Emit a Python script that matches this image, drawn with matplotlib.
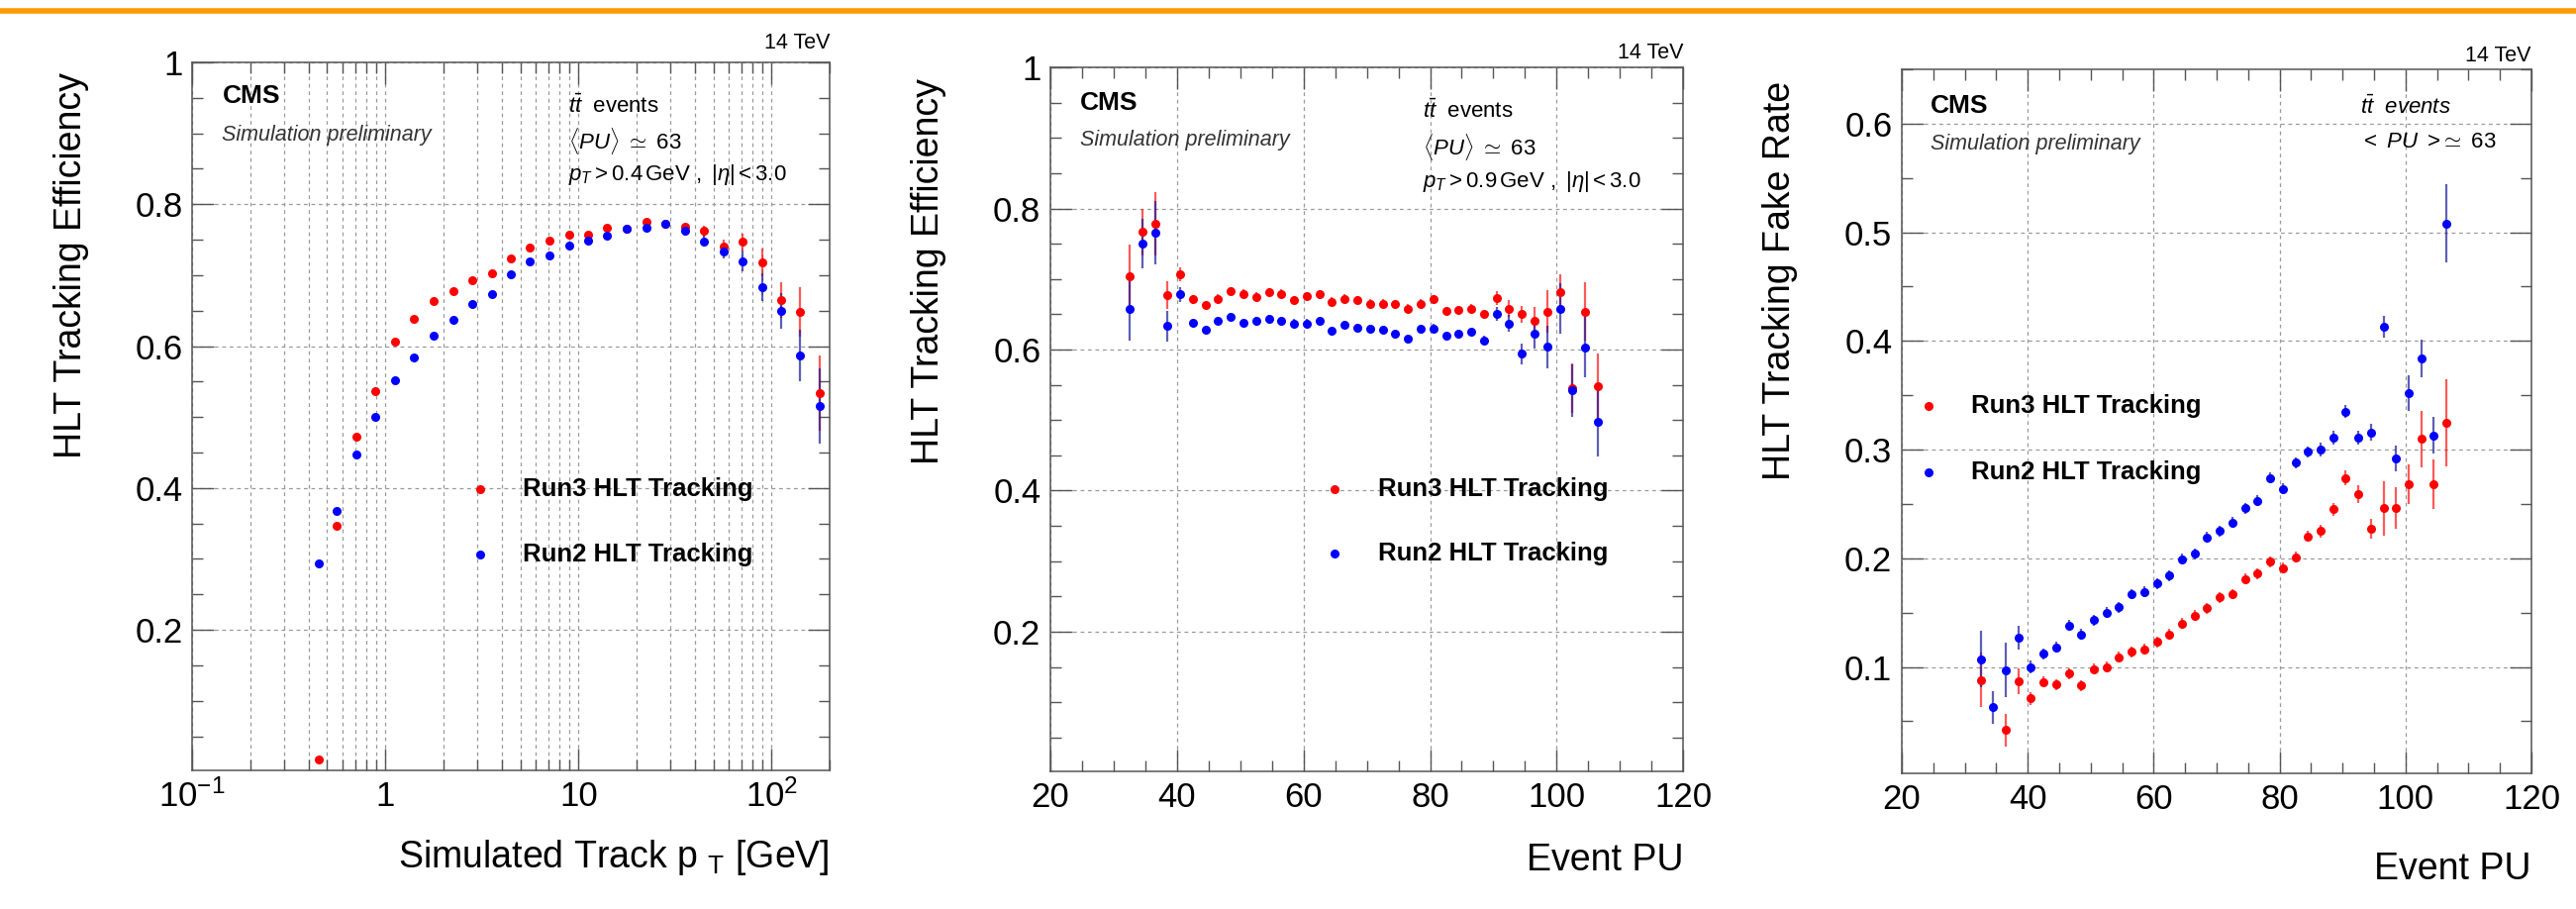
import numpy as np
import matplotlib
matplotlib.use("Agg")
import matplotlib.pyplot as plt
from matplotlib.ticker import FixedLocator, FixedFormatter, MultipleLocator, LogLocator, NullFormatter

plt.rcParams['font.family'] = ['Liberation Sans', 'DejaVu Sans']
plt.rcParams['mathtext.fontset'] = 'custom'
plt.rcParams['mathtext.rm'] = 'Liberation Sans'
plt.rcParams['mathtext.it'] = 'Liberation Sans:italic'
plt.rcParams['mathtext.bf'] = 'Liberation Sans:bold'

# ---- panel 1: efficiency vs simulated track pT ----
pt = [0.45, 0.56, 0.71, 0.89, 1.12, 1.41, 1.78, 2.24, 2.82, 3.55, 4.47, 5.62, 7.08, 8.91,
      11.2, 14.1, 17.8, 22.4, 28.2, 35.5, 44.7, 56.2, 70.8, 89.1, 112, 141, 178]
eff_pt_run3 = [0.018, 0.347, 0.472, 0.537, 0.606, 0.638, 0.664, 0.678, 0.693, 0.702, 0.724, 0.739,
               0.749, 0.757, 0.757, 0.767, 0.766, 0.775, 0.772, 0.768, 0.762, 0.740, 0.747, 0.718,
               0.665, 0.648, 0.534]
eff_pt_run2 = [0.294, 0.367, 0.447, 0.500, 0.552, 0.584, 0.615, 0.637, 0.659, 0.674, 0.701, 0.720,
               0.728, 0.742, 0.749, 0.756, 0.766, 0.767, 0.773, 0.762, 0.748, 0.734, 0.720, 0.683,
               0.650, 0.587, 0.516]
err_pt_run3 = [0.004, 0.004, 0.004, 0.004, 0.003, 0.003, 0.003, 0.003, 0.003, 0.003, 0.003, 0.003,
               0.003, 0.003, 0.003, 0.003, 0.004, 0.004, 0.005, 0.006, 0.007, 0.010, 0.012, 0.020,
               0.025, 0.035, 0.053]
err_pt_run2 = [0.004, 0.004, 0.004, 0.004, 0.003, 0.003, 0.003, 0.003, 0.003, 0.003, 0.003, 0.003,
               0.003, 0.003, 0.003, 0.003, 0.004, 0.004, 0.005, 0.006, 0.008, 0.010, 0.015, 0.020,
               0.025, 0.036, 0.053]

# ---- panels 2 and 3: vs event PU ----
pu = [32.5, 34.5, 36.5, 38.5, 40.5, 42.5, 44.5, 46.5, 48.5, 50.5, 52.5, 54.5, 56.5, 58.5,
      60.5, 62.5, 64.5, 66.5, 68.5, 70.5, 72.5, 74.5, 76.5, 78.5, 80.5, 82.5, 84.5, 86.5,
      88.5, 90.5, 92.5, 94.5, 96.5, 98.5, 100.5, 102.5, 104.5, 106.5]
eff_pu_run3 = [0.704, 0.767, 0.778, 0.677, 0.707, 0.671, 0.663, 0.672, 0.683, 0.679, 0.675, 0.681,
               0.679, 0.670, 0.676, 0.678, 0.668, 0.672, 0.670, 0.665, 0.665, 0.664, 0.658, 0.665,
               0.671, 0.655, 0.656, 0.658, 0.650, 0.673, 0.658, 0.650, 0.640, 0.654, 0.681, 0.545,
               0.654, 0.548]
eff_pu_run2 = [0.658, 0.750, 0.766, 0.633, 0.678, 0.638, 0.628, 0.641, 0.646, 0.638, 0.640, 0.643,
               0.640, 0.637, 0.637, 0.641, 0.626, 0.635, 0.631, 0.629, 0.628, 0.622, 0.615, 0.629,
               0.630, 0.619, 0.622, 0.625, 0.613, 0.650, 0.637, 0.594, 0.622, 0.604, 0.658, 0.542,
               0.603, 0.497]
err_eff_pu_run3 = [0.045, 0.033, 0.045, 0.020, 0.010, 0.006, 0.006, 0.006, 0.006, 0.006, 0.006, 0.006,
                   0.006, 0.006, 0.006, 0.006, 0.006, 0.006, 0.006, 0.006, 0.006, 0.006, 0.006, 0.006,
                   0.006, 0.006, 0.006, 0.006, 0.006, 0.010, 0.012, 0.012, 0.020, 0.030, 0.026, 0.035,
                   0.042, 0.046]
err_eff_pu_run2 = [0.045, 0.035, 0.045, 0.022, 0.010, 0.006, 0.006, 0.006, 0.006, 0.006, 0.006, 0.006,
                   0.006, 0.006, 0.006, 0.006, 0.006, 0.006, 0.006, 0.006, 0.006, 0.006, 0.006, 0.006,
                   0.006, 0.006, 0.006, 0.006, 0.006, 0.010, 0.012, 0.015, 0.020, 0.030, 0.036, 0.037,
                   0.043, 0.049]

fake_pu_run3 = [0.088, np.nan, 0.042, 0.087, 0.071, 0.086, 0.084, 0.094, 0.083, 0.098, 0.100, 0.109,
                0.114, 0.116, 0.123, 0.130, 0.140, 0.147, 0.154, 0.164, 0.167, 0.181, 0.186, 0.197,
                0.191, 0.201, 0.220, 0.225, 0.245, 0.274, 0.259, 0.227, 0.246, 0.246, 0.268, 0.310,
                0.268, 0.325]
fake_pu_run2 = [0.107, 0.063, 0.097, 0.127, 0.100, 0.112, 0.118, 0.138, 0.130, 0.143, 0.150, 0.155,
                0.167, 0.169, 0.177, 0.184, 0.199, 0.204, 0.219, 0.225, 0.233, 0.246, 0.253, 0.274,
                0.264, 0.288, 0.298, 0.300, 0.311, 0.335, 0.311, 0.316, 0.413, 0.292, 0.352, 0.384,
                0.313, 0.508]
err_fake_run3 = [0.025, np.nan, 0.015, 0.012, 0.006, 0.005, 0.005, 0.005, 0.005, 0.005, 0.005, 0.005,
                 0.005, 0.005, 0.005, 0.005, 0.005, 0.005, 0.005, 0.005, 0.005, 0.005, 0.005, 0.005,
                 0.005, 0.005, 0.005, 0.006, 0.006, 0.007, 0.008, 0.009, 0.025, 0.019, 0.018, 0.026,
                 0.023, 0.040]
err_fake_run2 = [0.026, 0.015, 0.025, 0.011, 0.006, 0.005, 0.005, 0.005, 0.005, 0.005, 0.005, 0.005,
                 0.005, 0.005, 0.005, 0.005, 0.005, 0.005, 0.005, 0.005, 0.005, 0.005, 0.005, 0.005,
                 0.005, 0.005, 0.005, 0.006, 0.006, 0.006, 0.006, 0.008, 0.010, 0.012, 0.016, 0.017,
                 0.017, 0.036]

RED = '#ff0000'
BLUE = '#0000ff'
FRAME = '#555555'
GRID = dict(color='#9a9a9a', linestyle=(0, (3, 3)), linewidth=0.9)

fig = plt.figure(figsize=(26.02, 9.18), dpi=100)
fig.add_artist(plt.Line2D([0, 1], [0.9875, 0.9875], color='#ff9900', lw=4, transform=fig.transFigure))

ax1 = fig.add_axes([0.0746, 0.1525, 0.2475, 0.7789])
ax2 = fig.add_axes([0.4078, 0.1514, 0.2456, 0.7745])
ax3 = fig.add_axes([0.7383, 0.1492, 0.2444, 0.7745])


def style(ax):
    for s in ax.spines.values():
        s.set_color(FRAME)
        s.set_linewidth(1.1)
    ax.tick_params(which='both', direction='in', top=True, right=True, colors=FRAME,
                   labelcolor='black', labelsize=25, width=1.0)
    ax.tick_params(which='major', length=16, pad=7)
    ax.tick_params(which='minor', length=8)
    ax.set_axisbelow(True)


def points(ax, x, y3, e3, y2, e2):
    ax.errorbar(x, y3, yerr=e3, fmt='o', color=RED, ecolor=(1, 0, 0, 0.65), ms=6.5, mew=0,
                elinewidth=1.6, capsize=0, zorder=3)
    ax.errorbar(x, y2, yerr=e2, fmt='o', color=BLUE, ecolor=(0.1, 0.1, 0.6, 0.7), ms=6.5, mew=0,
                elinewidth=1.6, capsize=0, zorder=3)


def legend(ax, xm, xt, y1, y2):
    ax.plot([xm], [y1], 'o', color=RED, ms=6.5, mew=0, transform=ax.transAxes)
    ax.plot([xm], [y2], 'o', color=BLUE, ms=6.5, mew=0, transform=ax.transAxes)
    ax.text(xt, y1, 'Run3 HLT Tracking', transform=ax.transAxes, fontsize=18.5,
            fontweight='bold', va='center')
    ax.text(xt, y2, 'Run2 HLT Tracking', transform=ax.transAxes, fontsize=18.5,
            fontweight='bold', va='center')


def cms(ax, x, y1, y2, top):
    ax.text(x, y1, 'CMS', transform=ax.transAxes, fontsize=19, fontweight='bold', va='center')
    ax.text(x, y2, 'Simulation preliminary', transform=ax.transAxes, fontsize=15.5,
            style='italic', va='center', color='#333333')
    ax.text(1.0, top, '14 TeV', transform=ax.transAxes, fontsize=15.5, ha='right', va='center')


# panel 1
style(ax1)
ax1.set_xscale('log')
ax1.set_xlim(0.1, 200)
ax1.set_ylim(0.002, 1.0)
ax1.xaxis.set_major_locator(FixedLocator([0.1, 1, 10, 100]))
ax1.xaxis.set_major_formatter(FixedFormatter(['$10^{-1}$', '1', '10', '$10^{2}$']))
ax1.xaxis.set_minor_locator(LogLocator(base=10, subs=np.arange(2, 10), numticks=20))
ax1.xaxis.set_minor_formatter(NullFormatter())
ax1.yaxis.set_major_locator(FixedLocator([0.2, 0.4, 0.6, 0.8, 1.0]))
ax1.yaxis.set_major_formatter(FixedFormatter(['0.2', '0.4', '0.6', '0.8', '1']))
ax1.yaxis.set_minor_locator(MultipleLocator(0.05))
ax1.grid(True, which='both', axis='x', **GRID)
ax1.grid(True, which='major', axis='y', **GRID)
points(ax1, pt, eff_pt_run3, err_pt_run3, eff_pt_run2, err_pt_run2)
cms(ax1, 0.047, 0.952, 0.897, 1.027)
ax1.text(0.59, 0.938, r'$t\bar{t}$  events', transform=ax1.transAxes, fontsize=16, va='center')
ax1.text(0.59, 0.889, r'$\langle PU\rangle\ \simeq\ 63$', transform=ax1.transAxes, fontsize=16, va='center')
ax1.text(0.59, 0.841, r'$p_{T} > 0.4\,\mathrm{GeV}\ ,\ |\eta| < 3.0$', transform=ax1.transAxes,
         fontsize=16, va='center')
legend(ax1, 0.452, 0.519, 0.397, 0.305)
ax1.text(-0.189, 0.986, 'HLT Tracking Efficiency', transform=ax1.transAxes, fontsize=27,
         rotation=90, ha='center', va='top')
ax1.text(1.0, -0.123, 'Simulated Track p $_{\\mathregular{T}}$ [GeV]', transform=ax1.transAxes,
         fontsize=27, ha='right', va='center')

# panel 2
style(ax2)
ax2.set_xlim(20, 120)
ax2.set_ylim(0.002, 1.0)
ax2.xaxis.set_major_locator(MultipleLocator(20))
ax2.xaxis.set_minor_locator(MultipleLocator(5))
ax2.yaxis.set_major_locator(FixedLocator([0.2, 0.4, 0.6, 0.8, 1.0]))
ax2.yaxis.set_major_formatter(FixedFormatter(['0.2', '0.4', '0.6', '0.8', '1']))
ax2.yaxis.set_minor_locator(MultipleLocator(0.05))
ax2.grid(True, which='major', **GRID)
points(ax2, pu, eff_pu_run3, err_eff_pu_run3, eff_pu_run2, err_eff_pu_run2)
cms(ax2, 0.047, 0.949, 0.896, 1.02)
ax2.text(0.588, 0.937, r'$t\bar{t}$  events', transform=ax2.transAxes, fontsize=16, va='center')
ax2.text(0.588, 0.887, r'$\langle PU\rangle\ \simeq\ 63$', transform=ax2.transAxes, fontsize=16, va='center')
ax2.text(0.588, 0.838, r'$p_{T} > 0.9\,\mathrm{GeV}\ ,\ |\eta| < 3.0$', transform=ax2.transAxes,
         fontsize=16, va='center')
legend(ax2, 0.449, 0.518, 0.401, 0.309)
ax2.text(-0.192, 0.985, 'HLT Tracking Efficiency', transform=ax2.transAxes, fontsize=27,
         rotation=90, ha='center', va='top')
ax2.text(1.0, -0.127, 'Event PU', transform=ax2.transAxes, fontsize=27, ha='right', va='center')

# panel 3
style(ax3)
ax3.set_xlim(20, 120)
ax3.set_ylim(0.002, 0.65)
ax3.xaxis.set_major_locator(MultipleLocator(20))
ax3.xaxis.set_minor_locator(MultipleLocator(5))
ax3.yaxis.set_major_locator(FixedLocator([0.1, 0.2, 0.3, 0.4, 0.5, 0.6]))
ax3.yaxis.set_major_formatter(FixedFormatter(['0.1', '0.2', '0.3', '0.4', '0.5', '0.6']))
ax3.yaxis.set_minor_locator(MultipleLocator(0.05))
ax3.grid(True, which='major', **GRID)
points(ax3, pu, fake_pu_run3, err_fake_run3, fake_pu_run2, err_fake_run2)
cms(ax3, 0.046, 0.948, 0.894, 1.019)
ax3.text(0.728, 0.946, r'$t\bar{t}$  events', transform=ax3.transAxes, fontsize=16,
         style='italic', va='center')
ax3.text(0.728, 0.897, r'$<\ PU\ >\!\simeq\ 63$', transform=ax3.transAxes, fontsize=16, va='center')
legend(ax3, 0.042, 0.110, 0.522, 0.428)
ax3.text(-0.194, 0.983, 'HLT Tracking Fake Rate', transform=ax3.transAxes, fontsize=27,
         rotation=90, ha='center', va='top')
ax3.text(1.0, -0.136, 'Event PU', transform=ax3.transAxes, fontsize=27, ha='right', va='center')

fig.savefig('out.png', dpi=100, facecolor='white')
